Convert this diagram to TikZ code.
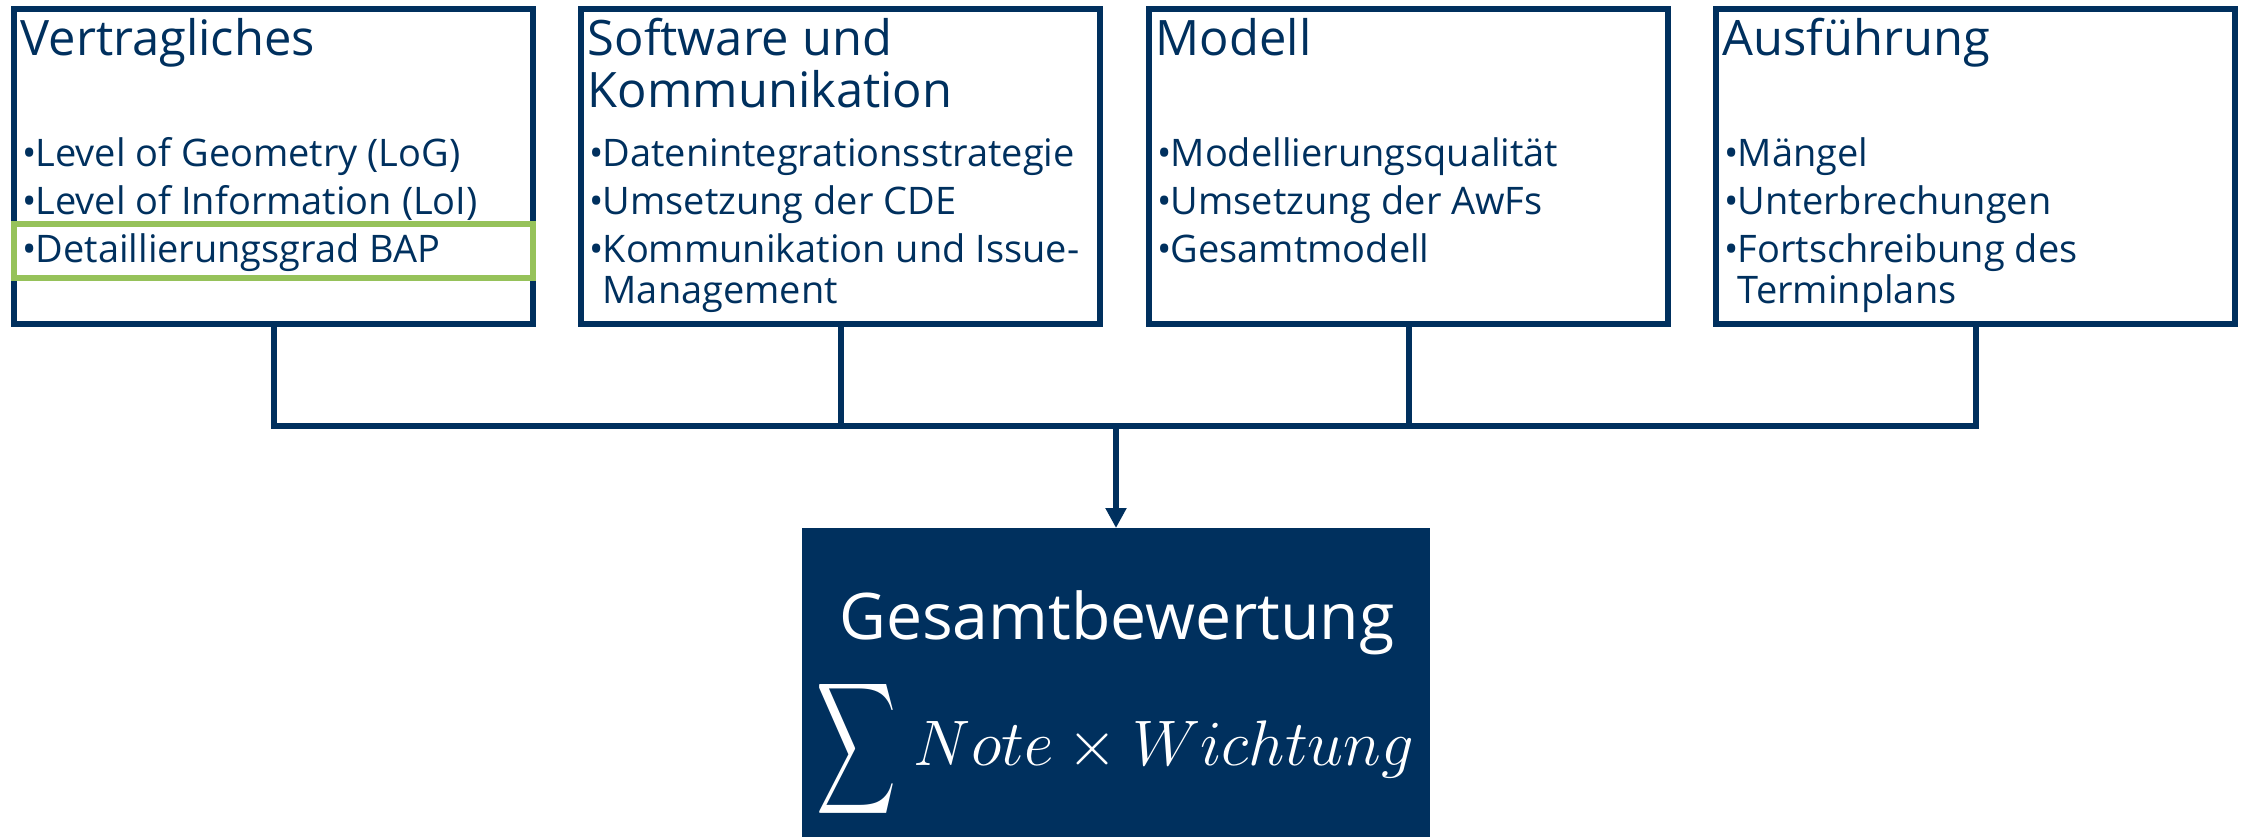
\documentclass[tikz,border=0pt]{standalone}
\usepackage{fontspec}
\setmainfont{Open Sans}
\usepackage{amsmath}
\usepackage{graphicx}
\usetikzlibrary{arrows.meta}
\usetikzlibrary{positioning}

\definecolor{dunkelblau}{HTML}{00305E}
\definecolor{gruen}{HTML}{96C25A}

\newcommand{\kopf}[1]{\parbox[t]{5cm}{\raggedright #1}}
\newcommand{\punkte}[1]{\parbox[t]{5.05cm}{\raggedright\parskip=0.07cm #1}}
\newcommand{\pkt}[1]{\par\hangindent=0.13cm\hangafter=1\noindent\makebox[0.13cm][l]{•}#1}

\begin{document}
\begin{tikzpicture}[
	kasten/.style={draw=dunkelblau, line width=0.06cm, minimum width=5.19cm, minimum height=3.15cm, inner sep=0},
	titel/.style={anchor=base west, inner sep=0, text=dunkelblau, font=\fontsize{13.9}{14.8}\selectfont},
	liste/.style={anchor=base west, inner sep=0, text=dunkelblau, font=\fontsize{10.8}{11.7}\selectfont},
	markierung/.style={draw=gruen, line width=0.06cm, minimum width=5.19cm, minimum height=0.54cm, inner sep=0},
	gesamt/.style={fill=dunkelblau, minimum width=6.28cm, minimum height=3.09cm, inner sep=0, outer sep=0},
	linie/.style={dunkelblau, line width=0.06cm},
	pfeil/.style={linie, -{Triangle[width=0.2cm, length=0.2cm]}}]
	\useasboundingbox (0,0) rectangle (22.42,-8.37);
	\node[kasten] (vertrag) at (2.735,-1.665) {};
	\node[kasten] (software) at (8.405,-1.665) {};
	\node[kasten] (modell) at (14.085,-1.665) {};
	\node[kasten] (ausf) at (19.755,-1.665) {};
	\node[markierung] (bap) at (2.735,-2.51) {};
	\node[titel] (t1) at ([shift={(0.09,-0.49)}]vertrag.north west) {\kopf{Vertragliches}};
	\node[titel] (t2) at ([shift={(0.09,-0.49)}]software.north west) {\kopf{Software und\\Kommunikation}};
	\node[titel] (t3) at ([shift={(0.09,-0.49)}]modell.north west) {\kopf{Modell}};
	\node[titel] (t4) at ([shift={(0.09,-0.49)}]ausf.north west) {\kopf{Ausführung}};
	\node[liste] (l1) at ([shift={(0.11,-1.60)}]vertrag.north west) {\punkte{\pkt{Level of Geometry (LoG)}
		\pkt{Level of Information (LoI)}\pkt{Detaillierungsgrad BAP}}};
	\node[liste] (l2) at ([shift={(0.11,-1.60)}]software.north west) {\punkte{\pkt{Datenintegrationsstrategie}
		\pkt{Umsetzung der CDE}\pkt{Kommunikation und Issue-\newline Management}}};
	\node[liste] (l3) at ([shift={(0.11,-1.60)}]modell.north west) {\punkte{\pkt{Modellierungsqualität}
		\pkt{Umsetzung der AwFs}\pkt{Gesamtmodell}}};
	\node[liste] (l4) at ([shift={(0.11,-1.60)}]ausf.north west) {\punkte{\pkt{Mängel}
		\pkt{Unterbrechungen}\pkt{Fortschreibung des\newline Terminplans}}};
	\node[gesamt] (gesamt) at (11.16,-6.825) {};
	\node[anchor=base, inner sep=0, text=white, font=\fontsize{18.3}{20}\selectfont] (gtext) at (11.17,-6.39) {Gesamtbewertung};
	\node[inner sep=0, text=white, font=\fontsize{19}{20}\selectfont] (formel) at (11.15,-7.49)
		{\scalebox{1.06}{$\vcenter{\hbox{\scalebox{0.86}[1.43]{$\displaystyle\sum$}}}\;Note\times Wichtung$}};
	\coordinate (bus) at (11.16,-4.255);
	\draw[linie] (vertrag.south) |- (bus) -| (ausf.south);
	\draw[linie] (software.south) -- (software.south |- bus);
	\draw[linie] (modell.south) -- (modell.south |- bus);
	\draw[pfeil] (bus) -- (gesamt.north);
\end{tikzpicture}
\end{document}
